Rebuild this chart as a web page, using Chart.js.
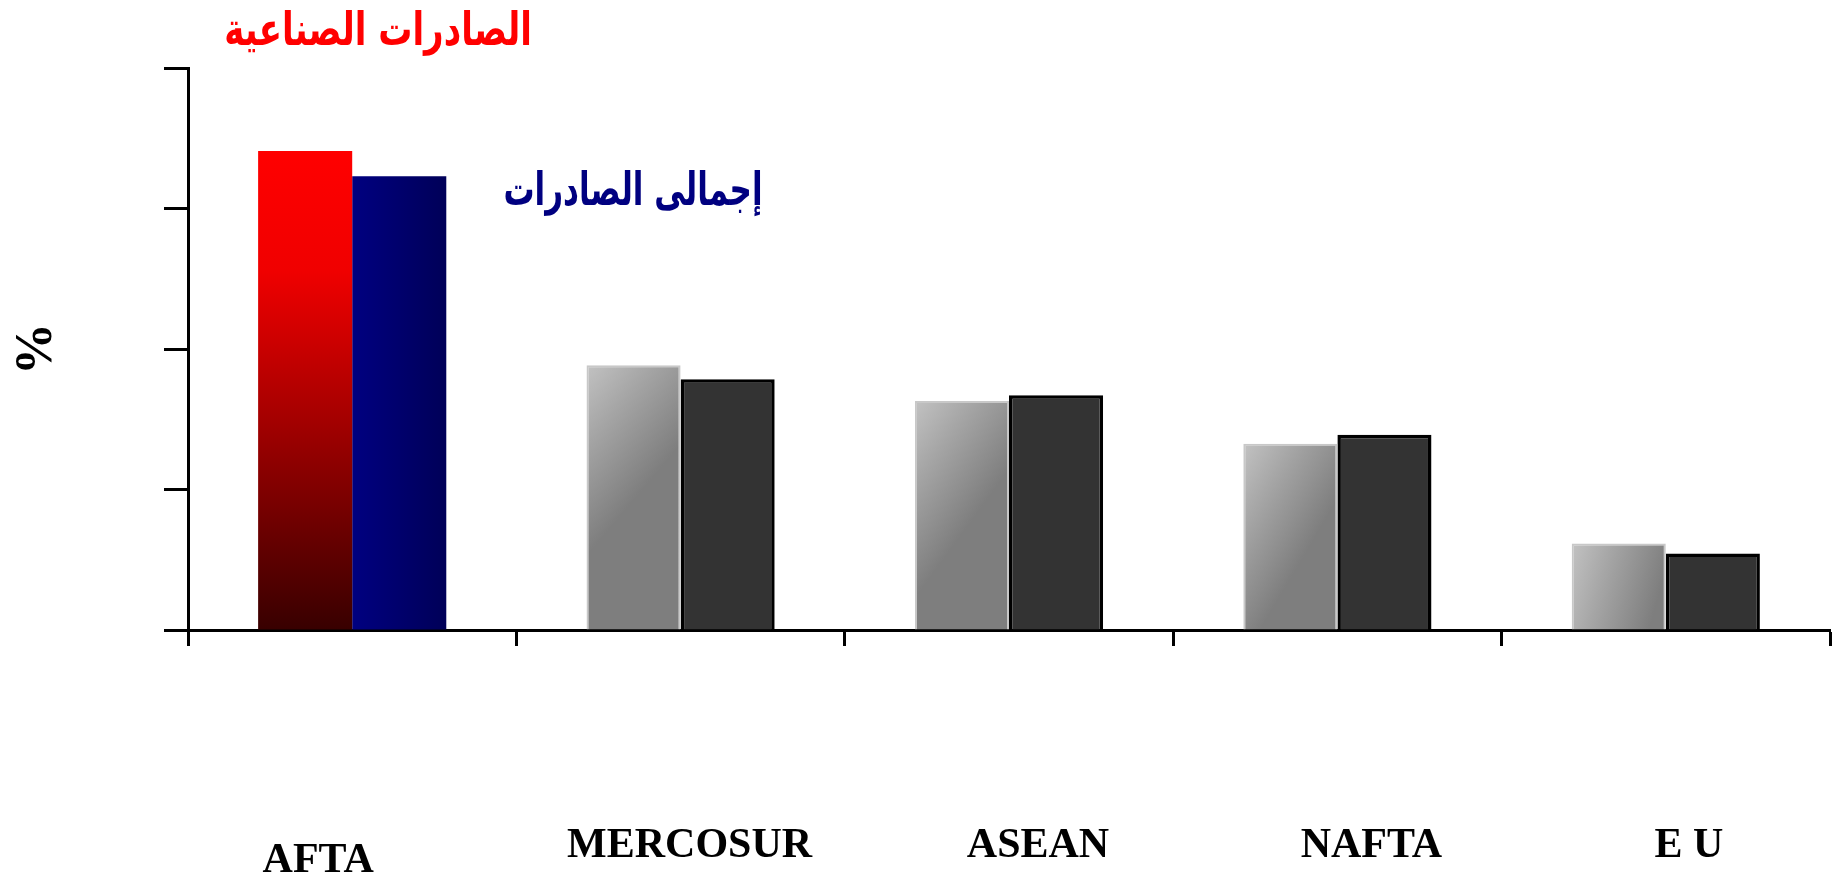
<!DOCTYPE html>
<html>
<head>
<meta charset="utf-8">
<script src="https://cdn.jsdelivr.net/npm/chart.js"></script>
<style>
    html, body { margin: 0; padding: 0; background: #fff; overflow: hidden; }
    #wrap { position: relative; width: 1837px; height: 882px; }
    canvas { display: block; }
</style>
</head>
<body>
<div id="wrap"><canvas id="exportChart"></canvas></div>
<script>
const categories = ['AFTA', 'MERCOSUR', 'ASEAN', 'NAFTA', 'E U'];
const industrialExports = [34.1, 18.85, 16.3, 13.25, 6.15];
const totalExports = [32.3, 17.85, 16.7, 13.9, 5.45];
const yTicks = [0, 10, 20, 30, 40];
const seriesNames = ['الصادرات الصناعية', 'إجمالى الصادرات'];

const CAT_PCT = 0.573;

// pixel box of one bar, taken from the chart scales
function barBox(chart, index, datasetIndex, value) {
    const xs = chart.scales.x, ys = chart.scales.y;
    const w = (xs.right - xs.left) / categories.length * CAT_PCT / 2;
    const c = xs.getPixelForValue(index);
    const left = datasetIndex === 0 ? c - w : c;
    return { left: left, right: left + w, top: ys.getPixelForValue(value), bottom: ys.getPixelForValue(0) };
}

function fillFor(context) {
    const chart = context.chart;
    const area = chart.chartArea;
    const i = context.dataIndex, d = context.datasetIndex;
    if (!area || !chart.scales.x) {
        if (d === 1) return i === 0 ? '#000078' : '#333333';
        return i === 0 ? '#d00000' : '#a0a0a0';
    }
    const c = chart.ctx;
    const b = barBox(chart, i, d, context.raw);
    if (d === 0 && i === 0) {
        const g = c.createLinearGradient(0, b.top, 0, b.bottom);
        g.addColorStop(0, '#ff0000');
        g.addColorStop(0.25, '#f00000');
        g.addColorStop(1, '#380000');
        return g;
    }
    if (d === 1 && i === 0) {
        const g = c.createLinearGradient(b.left, 0, b.right, 0);
        g.addColorStop(0, '#000080');
        g.addColorStop(1, '#000058');
        return g;
    }
    if (d === 0) {
        const g = c.createLinearGradient(b.left, b.top, b.right, b.top + (b.bottom - b.top) * 0.3);
        g.addColorStop(0, '#c2c2c2');
        g.addColorStop(0.4, '#a6a6a6');
        g.addColorStop(1, '#7e7e7e');
        return g;
    }
    return '#333333';
}

// category names sit a little off the category centres in the original
const labelShift = [-34, 9, 29, 34, 23];

const categoryLabels = {
    id: 'categoryLabels',
    afterDraw(chart) {
        const c = chart.ctx, xs = chart.scales.x, area = chart.chartArea;
        c.save();
        c.font = 'bold 42px "Liberation Serif", "Times New Roman", serif';
        c.fillStyle = '#000';
        c.textAlign = 'center';
        c.textBaseline = 'middle';
        categories.forEach((name, i) => {
            const y = area.bottom + (i === 0 ? 231 : 216);
            c.fillText(name, xs.getPixelForValue(i) + labelShift[i], y);
        });
        c.restore();
    }
};

// series names written next to the AFTA bars
const seriesLabels = {
    id: 'seriesLabels',
    afterDraw(chart) {
        const c = chart.ctx;
        const put = (text, color, size, x, y) => {
            c.save();
            c.font = 'bold ' + size + 'px "DejaVu Sans", sans-serif';
            c.translate(x, y);
            c.scale(1, 1.35 * 34 / size);
            c.fillStyle = color;
            c.fillText(text, 0, 0);
            c.restore();
        };
        c.save();
        c.textAlign = 'center';
        c.textBaseline = 'middle';
        c.direction = 'rtl';
        put(seriesNames[0], '#ff0000', 34, 378, 33);
        put(seriesNames[1], '#000080', 31, 633, 193);
        c.restore();
    }
};

const ctx = document.getElementById('exportChart').getContext('2d');
new Chart(ctx, {
    type: 'bar',
    data: {
        labels: categories,
        datasets: [{
            label: seriesNames[0],
            data: industrialExports,
            backgroundColor: fillFor,
            borderColor: '#c8c8c8',
            borderWidth: context => context.dataIndex === 0 ? 0 : 2,
            categoryPercentage: CAT_PCT,
            barPercentage: 1.0
        }, {
            label: seriesNames[1],
            data: totalExports,
            backgroundColor: fillFor,
            borderColor: '#000000',
            borderWidth: context => context.dataIndex === 0 ? 0 : 3.5,
            categoryPercentage: CAT_PCT,
            barPercentage: 1.0
        }]
    },
    options: {
        responsive: true,
        maintainAspectRatio: false,
        animation: false,
        layout: { padding: { top: 68, right: 7, bottom: 0, left: 0 } },
        plugins: {
            legend: { display: false },
            tooltip: { enabled: false }
        },
        scales: {
            x: {
                afterFit: scale => {
                    scale.height = 252;
                    scale.paddingLeft = 0;
                    scale.paddingRight = 0;
                },
                border: { color: '#000', width: 3 },
                grid: {
                    offset: true,
                    drawOnChartArea: false,
                    tickLength: 16,
                    tickWidth: 3,
                    tickColor: '#000'
                },
                ticks: { display: false }
            },
            y: {
                min: 0,
                max: 40,
                afterFit: scale => { scale.width = 188; },
                afterBuildTicks: scale => { scale.ticks = yTicks.map(v => ({ value: v })); },
                border: { color: '#000', width: 3 },
                grid: {
                    drawOnChartArea: false,
                    tickLength: 24,
                    tickWidth: 3,
                    tickColor: '#000'
                },
                ticks: { display: false },
                title: {
                    display: true,
                    text: '%',
                    color: '#000',
                    padding: { top: 6, bottom: 0 },
                    font: { family: '"Liberation Serif", "Times New Roman", serif', size: 52, weight: 'bold' }
                }
            }
        }
    },
    plugins: [categoryLabels, seriesLabels]
});
</script>
</body>
</html>
